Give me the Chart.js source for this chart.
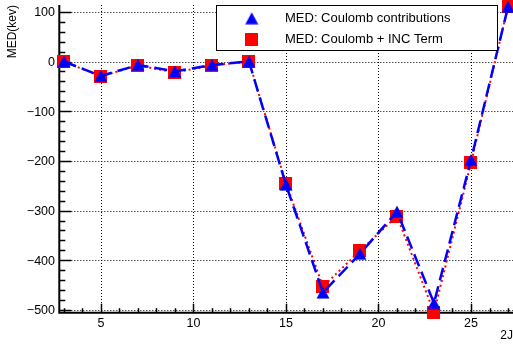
<!DOCTYPE html>
<html>
<head>
<meta charset="utf-8">
<script src="https://cdn.jsdelivr.net/npm/chart.js@4.4.0/dist/chart.umd.min.js"></script>
<style>
  body { margin: 0; background: #fff; }
  #wrap { width: 513px; height: 345px; }
</style>
</head>
<body>
<div id="wrap"><canvas id="c" width="513" height="345"></canvas></div>
<script>
// 2J values and MED (keV)
const twoJ = [3, 5, 7, 9, 11, 13, 15, 17, 19, 21, 23, 25, 27];
const coulomb = [0, -29, -7, -20, -7, 0, -248, -465, -387, -302, -486, -198, 110];
const coulombInc = [0, -30, -8, -22, -8, 0, -245, -453, -381, -311, -505, -204, 110];
const xTicks = [5, 10, 15, 20, 25];
const yTicks = [-500, -400, -300, -200, -100, 0, 100];

const FONT = '"Liberation Sans", Arial, Helvetica, sans-serif';

// markers drawn like ROOT ones (centred on bounding box)
function triangleMarker() {
  const c = document.createElement('canvas');
  c.width = 14; c.height = 13;
  const g = c.getContext('2d');
  g.fillStyle = '#0000ff';
  g.beginPath();
  g.moveTo(0.5, 12.4); g.lineTo(13.5, 12.4); g.lineTo(7, 0.6);
  g.closePath(); g.fill();
  return c;
}
function squareMarker() {
  const c = document.createElement('canvas');
  c.width = 13; c.height = 13;
  const g = c.getContext('2d');
  g.fillStyle = '#ff0000';
  g.fillRect(0, 0, 13, 13);
  return c;
}
const tri = triangleMarker();
const sq = squareMarker();

const minus = v => (v < 0 ? '\u2212' + Math.abs(v) : String(v));

const frame = {
  id: 'frame',
  beforeDatasetsDraw(chart) {
    const { ctx, chartArea: a, scales: { x, y } } = chart;
    ctx.save();
    // dotted grid
    ctx.strokeStyle = '#000';
    ctx.lineWidth = 1;
    ctx.setLineDash([1, 2]);
    xTicks.forEach(v => {
      const px = Math.round(x.getPixelForValue(v)) + 0.5;
      ctx.beginPath(); ctx.moveTo(px, a.top); ctx.lineTo(px, a.bottom); ctx.stroke();
    });
    yTicks.forEach(v => {
      const py = Math.round(y.getPixelForValue(v)) + 0.5;
      ctx.beginPath(); ctx.moveTo(a.left, py); ctx.lineTo(a.right, py); ctx.stroke();
    });
    ctx.setLineDash([]);
    // tick marks inside the frame
    ctx.lineWidth = 1.5;
    for (let v = -500; v <= 100; v += 20) {
      const py = Math.round(y.getPixelForValue(v)) + 0.5;
      const len = v % 100 === 0 ? 12 : 6;
      ctx.beginPath(); ctx.moveTo(a.left, py); ctx.lineTo(a.left + len, py); ctx.stroke();
    }
    for (let v = 3; v <= 27; v++) {
      const px = Math.round(x.getPixelForValue(v)) + 0.5;
      const len = v % 5 === 0 ? 9 : 4.5;
      ctx.beginPath(); ctx.moveTo(px, a.bottom); ctx.lineTo(px, a.bottom - len); ctx.stroke();
    }
    // axis lines
    ctx.lineWidth = 2;
    ctx.beginPath();
    ctx.moveTo(a.left, a.top); ctx.lineTo(a.left, a.bottom); ctx.lineTo(a.right, a.bottom);
    ctx.stroke();
    // tick labels
    ctx.fillStyle = '#000';
    ctx.font = '12.5px ' + FONT;
    ctx.textBaseline = 'alphabetic';
    ctx.textAlign = 'right';
    yTicks.forEach(v => ctx.fillText(minus(v), 55, y.getPixelForValue(v) + 4.5));
    ctx.textAlign = 'center';
    xTicks.forEach(v => ctx.fillText(minus(v), x.getPixelForValue(v), 326.7));
    // axis titles
    ctx.font = '12px ' + FONT;
    ctx.textAlign = 'right';
    ctx.fillText('2J', 513, 339);
    ctx.translate(15.5, 5);
    ctx.rotate(-Math.PI / 2);
    ctx.fillText('MED(kev)', 0, 0);
    ctx.restore();
  },
  afterDraw(chart) {
    const { ctx } = chart;
    ctx.save();
    ctx.fillStyle = '#fff';
    ctx.fillRect(216.5, 5.5, 281, 45);
    ctx.strokeStyle = '#000';
    ctx.lineWidth = 1;
    ctx.strokeRect(216.5, 5.5, 281, 45);
    ctx.drawImage(tri, 251.7 - 7, 18.3 - 6.5);
    ctx.drawImage(sq, 251.7 - 6.5, 39 - 6.5);
    ctx.fillStyle = '#000';
    ctx.font = '13px ' + FONT;
    ctx.textAlign = 'left';
    ctx.textBaseline = 'alphabetic';
    ctx.fillText('MED: Coulomb contributions', 285, 21.8);
    ctx.fillText('MED: Coulomb + INC Term', 285, 43.3);
    ctx.restore();
  }
};

new Chart(document.getElementById('c'), {
  type: 'scatter',
  data: {
    datasets: [
      {
        label: 'MED: Coulomb contributions',
        data: twoJ.map((j, i) => ({ x: j, y: coulomb[i] })),
        showLine: true,
        borderColor: '#0000ff',
        borderWidth: 2.5,
        borderDash: [13, 6],
        pointStyle: tri,
        clip: false
      },
      {
        label: 'MED: Coulomb + INC Term',
        data: twoJ.map((j, i) => ({ x: j, y: coulombInc[i] })),
        showLine: true,
        borderColor: '#ff0000',
        borderWidth: 2,
        borderDash: [2, 3],
        pointStyle: sq,
        clip: false
      }
    ]
  },
  options: {
    responsive: false,
    animation: false,
    events: [],
    layout: { autoPadding: false, padding: { top: 5, left: 0, right: 0, bottom: 0 } },
    plugins: { legend: { display: false }, tooltip: { enabled: false } },
    scales: {
      x: {
        type: 'linear',
        min: 2.75,
        max: 27.27,
        afterFit(s) { s.height = 32.3; },
        afterBuildTicks(s) { s.ticks = xTicks.map(v => ({ value: v })); },
        grid: { display: false },
        border: { display: false },
        ticks: { display: false }
      },
      y: {
        type: 'linear',
        min: -505.5,
        max: 113.7,
        afterFit(s) { s.width = 59.3; },
        afterBuildTicks(s) { s.ticks = yTicks.map(v => ({ value: v })); },
        grid: { display: false },
        border: { display: false },
        ticks: { display: false }
      }
    }
  },
  plugins: [frame]
});
</script>
</body>
</html>
